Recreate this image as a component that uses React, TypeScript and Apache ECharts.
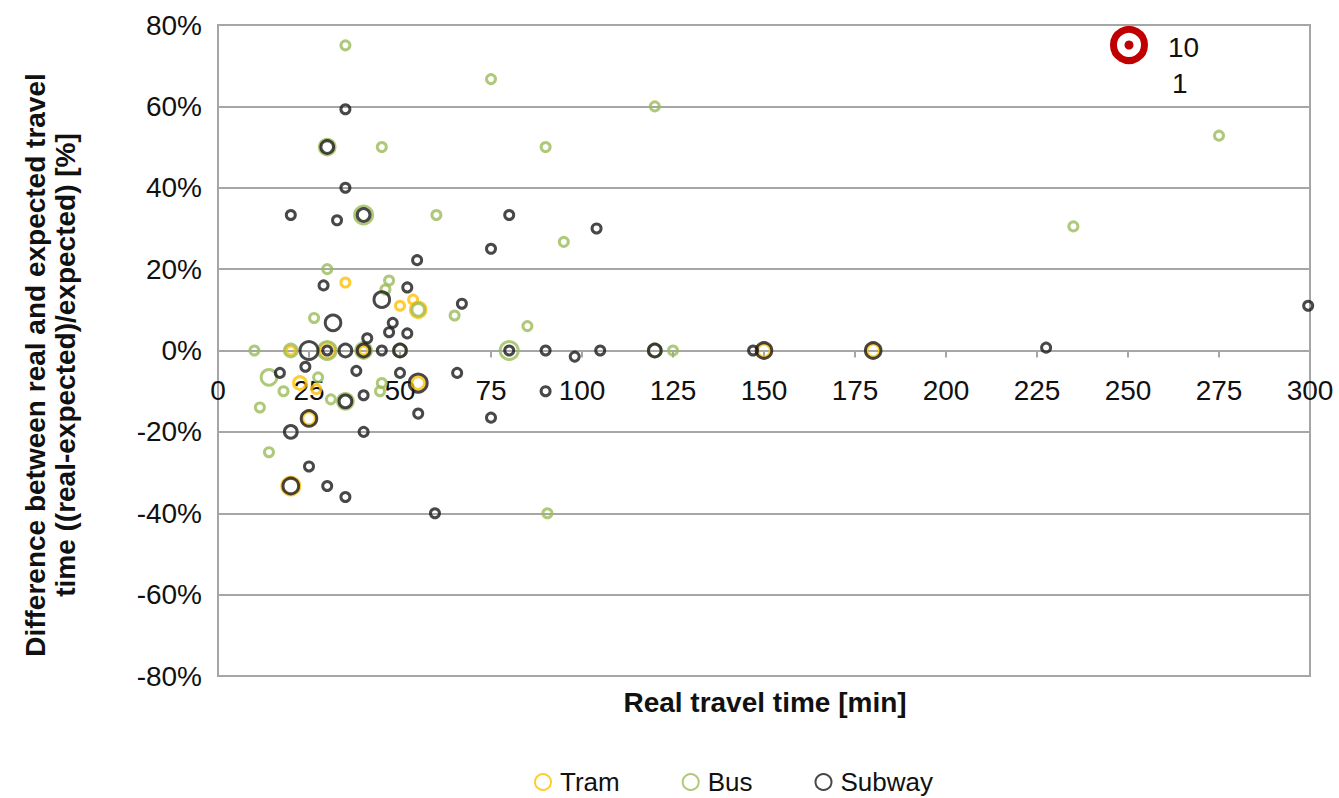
import React, { useEffect, useRef } from "react";
import * as echarts from "echarts";

// [real travel time (min), difference (%), number of trips]
const tramPoints: number[][] = [
  [20, 0, 1], [30, 0, 3], [40, 0, 1], [150, 0, 2], [180, 0, 2],
  [35, 16.7, 1], [50, 11, 1], [53.6, 12.5, 1], [55, 10, 3],
  [22.5, -8, 2], [27, -9.5, 1], [25, -16.7, 2], [20, -33.3, 4], [55, -8, 2],
];

const busPoints: number[][] = [
  [35, 75, 1], [75, 66.7, 1], [120, 60, 1], [275, 52.8, 1],
  [30, 50, 3], [45, 50, 1], [90, 50, 1],
  [40, 33.3, 4], [60, 33.3, 1], [95, 26.7, 1], [235, 30.5, 1],
  [30, 20, 1], [47, 17.2, 1], [46, 15, 1], [26.4, 8, 1], [65, 8.6, 1], [85, 6, 1], [55, 10, 2],
  [10, 0, 1], [20, 0, 2], [30, 0, 4], [40, 0, 3], [50, 0, 2], [80, 0, 4], [120, 0, 2], [125, 0, 1],
  [14, -6.6, 3], [18, -10, 1], [11.5, -14, 1], [14, -25, 1], [27.5, -6.6, 1], [31, -12, 1],
  [35, -12.5, 3], [45, -8, 1], [44.5, -10, 1], [90.5, -40, 1],
];

const subwayPoints: number[][] = [
  [35, 59.3, 1], [30, 50, 2], [35, 40, 1], [20, 33.3, 1], [32.7, 32, 1], [40, 33.3, 2],
  [80, 33.3, 1], [104, 30, 1], [54.7, 22.2, 1], [75, 25, 1], [29, 16, 1], [45, 12.5, 3],
  [52, 15.5, 1], [67, 11.5, 1], [31.6, 6.8, 3], [48, 6.8, 1], [47, 4.5, 1], [52, 4.2, 1], [41, 3, 1],
  [25, 0, 4], [30, 0, 1], [35, 0, 2], [40, 0, 2], [45, 0, 1], [50, 0, 2], [80, 0, 1], [90, 0, 1],
  [105, 0, 1], [120, 0, 2], [147, 0, 1], [150, 0, 3], [180, 0, 3], [227.5, 0.7, 1], [299.5, 11, 1],
  [17, -5.5, 1], [24, -4, 1], [38, -5, 1], [50, -5.5, 1], [65.7, -5.5, 1], [40, -11, 1],
  [35, -12.5, 2], [55, -15.5, 1], [75, -16.5, 1], [90, -10, 1], [98, -1.5, 1],
  [20, -20, 2], [40, -20, 1], [25, -28.5, 1], [20, -33.3, 3], [30, -33.3, 1], [35, -36, 1],
  [59.6, -40, 1], [25, -16.7, 3], [55, -8, 4],
];

const seriesNames = ["Tram", "Bus", "Subway"];
const seriesColors = ["#FFC000", "#9BBB59", "#1A1A1A"];
const xMin = 0;
const xMax = 300;
const xTickStep = 25;
const yMin = -80;
const yMax = 80;
const yTickStep = 20;
const bubbleLegendLabels = ["10", "1"];
const xTitle = "Real travel time [min]";
const yTitleLines = [
  "Difference between real and expected travel",
  "time ((real-expected)/expected) [%]",
];

const FONT = "'Liberation Sans', Arial, sans-serif";
const GRID_GRAY = "#A6A6A6";

// plot box in pixels
const GRID_LEFT = 218;
const GRID_RIGHT = 29;
const GRID_TOP = 25;
const GRID_BOTTOM = 122;
const CHART_H = 798;

export default function App() {
  const ref = useRef<HTMLDivElement>(null);

  useEffect(() => {
    if (!ref.current) return;
    const chart = echarts.init(ref.current, undefined, { renderer: "svg" });

    // the time axis crosses the vertical axis at 0 %
    const plotHeight = CHART_H - GRID_TOP - GRID_BOTTOM;
    const zeroOffset = -plotHeight * ((0 - yMin) / (yMax - yMin));

    const makeSeries = (name: string, color: string, data: number[][]) => ({
      name,
      type: "scatter",
      data,
      symbol: "circle",
      // bubble area grows with the number of trips
      symbolSize: (v: number[]) => 9 * Math.sqrt(v[2]),
      itemStyle: { color: "rgba(0,0,0,0)", borderColor: color, borderWidth: 3 },
      emphasis: { disabled: true },
    });

    chart.setOption({
      animation: false,
      backgroundColor: "#fff",
      textStyle: { fontFamily: FONT },
      grid: {
        left: GRID_LEFT, right: GRID_RIGHT, top: GRID_TOP, bottom: GRID_BOTTOM,
        show: true, borderColor: GRID_GRAY, borderWidth: 2,
      },
      xAxis: {
        type: "value",
        min: xMin,
        max: xMax,
        interval: xTickStep,
        offset: zeroOffset,
        axisLine: { onZero: false, lineStyle: { color: GRID_GRAY, width: 2 } },
        axisTick: { show: true, length: 7, lineStyle: { color: GRID_GRAY, width: 2 } },
        axisLabel: { fontSize: 28, color: "#111", margin: 26, fontFamily: FONT },
        splitLine: { show: false },
      },
      yAxis: {
        type: "value",
        min: yMin,
        max: yMax,
        interval: yTickStep,
        axisLine: { show: true, onZero: false, lineStyle: { color: GRID_GRAY, width: 2 } },
        axisTick: { show: false },
        axisLabel: { fontSize: 28, color: "#111", margin: 16, formatter: "{value}%", fontFamily: FONT },
        splitLine: { show: true, lineStyle: { color: GRID_GRAY, width: 2 } },
      },
      legend: {
        data: seriesNames,
        left: 529,
        top: 764,
        itemGap: 62,
        itemWidth: 16,
        itemHeight: 16,
        itemStyle: { borderWidth: 2 },
        textStyle: { fontSize: 26, color: "#111", fontFamily: FONT, padding: [0, 0, 0, 4] },
      },
      series: [
        makeSeries(seriesNames[0], seriesColors[0], tramPoints),
        makeSeries(seriesNames[1], seriesColors[1], busPoints),
        makeSeries(seriesNames[2], seriesColors[2], subwayPoints),
      ],
      graphic: [
        {
          type: "text",
          x: 765,
          y: 702,
          style: {
            text: xTitle,
            font: `bold 28px ${FONT}`,
            fill: "#111",
            textAlign: "center",
            textVerticalAlign: "middle",
          },
        },
        {
          type: "text",
          x: 50,
          y: 365,
          rotation: Math.PI / 2,
          style: {
            text: yTitleLines.join("\n"),
            font: `bold 28px ${FONT}`,
            lineHeight: 30,
            fill: "#111",
            textAlign: "center",
            textVerticalAlign: "middle",
          },
        },
        {
          type: "circle",
          shape: { cx: 1129, cy: 45, r: 15.5 },
          style: { fill: "none", stroke: "#C00000", lineWidth: 7 },
        },
        {
          type: "circle",
          shape: { cx: 1129, cy: 45, r: 4.5 },
          style: { fill: "#C00000" },
        },
        {
          type: "text",
          x: 1168,
          y: 47,
          style: { text: bubbleLegendLabels[0], font: `28px ${FONT}`, fill: "#111", textVerticalAlign: "middle" },
        },
        {
          type: "text",
          x: 1172,
          y: 83,
          style: { text: bubbleLegendLabels[1], font: `28px ${FONT}`, fill: "#111", textVerticalAlign: "middle" },
        },
      ],
    });

    return () => chart.dispose();
  }, []);

  return (
    <div
      ref={ref}
      style={{ position: "fixed", left: 0, top: 0, width: 1339, height: CHART_H }}
    />
  );
}
